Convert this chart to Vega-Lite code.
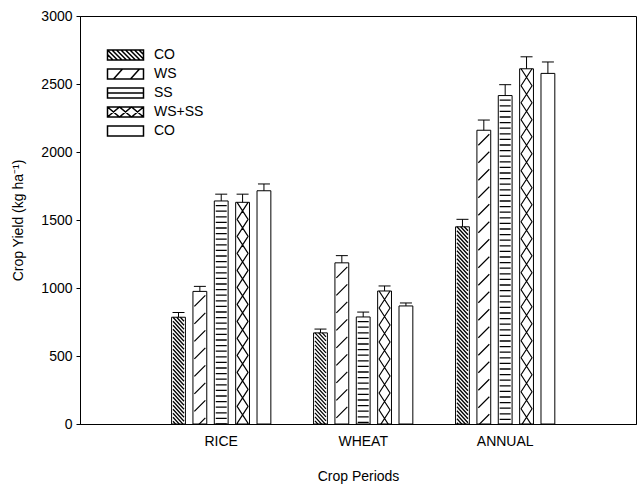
{
  "$schema": "https://vega.github.io/schema/vega-lite/v6.json",
  "width": 556,
  "height": 408,
  "autosize": {"type": "none"},
  "padding": {"left": 80, "top": 16, "right": 5, "bottom": 63},
  "background": "white",
  "config": {
    "font": "Liberation Sans",
    "view": {"stroke": "black", "strokeWidth": 1},
    "axis": {"grid": false, "domainColor": "black", "tickColor": "black", "labelColor": "black", "titleColor": "black", "labelFontSize": 14, "titleFontSize": 14, "titleFontWeight": "normal", "labelFont": "Liberation Sans", "titleFont": "Liberation Sans"},
    "legend": {"labelFont": "Liberation Sans"}
  },
  "data": {
    "values": [
      {"period": "RICE", "treatment": "CO1", "yield": 785, "upper": 820},
      {"period": "RICE", "treatment": "WS", "yield": 975, "upper": 1012},
      {"period": "RICE", "treatment": "SS", "yield": 1640, "upper": 1690},
      {"period": "RICE", "treatment": "WS+SS", "yield": 1630, "upper": 1690},
      {"period": "RICE", "treatment": "CO2", "yield": 1715, "upper": 1765},
      {"period": "WHEAT", "treatment": "CO1", "yield": 670, "upper": 698},
      {"period": "WHEAT", "treatment": "WS", "yield": 1185, "upper": 1238},
      {"period": "WHEAT", "treatment": "SS", "yield": 787, "upper": 823},
      {"period": "WHEAT", "treatment": "WS+SS", "yield": 978, "upper": 1015},
      {"period": "WHEAT", "treatment": "CO2", "yield": 868, "upper": 890},
      {"period": "ANNUAL", "treatment": "CO1", "yield": 1450, "upper": 1505},
      {"period": "ANNUAL", "treatment": "WS", "yield": 2160, "upper": 2235},
      {"period": "ANNUAL", "treatment": "SS", "yield": 2415, "upper": 2495},
      {"period": "ANNUAL", "treatment": "WS+SS", "yield": 2612, "upper": 2700},
      {"period": "ANNUAL", "treatment": "CO2", "yield": 2578, "upper": 2662}
    ]
  },
  "encoding": {
    "x": {
      "field": "period", "type": "nominal", "sort": ["RICE", "WHEAT", "ANNUAL"],
      "scale": {"paddingInner": 0, "paddingOuter": 0.458, "align": 0.54},
      "axis": {"labelAngle": 0, "ticks": false, "labelPadding": 10, "titlePadding": 21, "domainColor": "black"},
      "title": "Crop Periods"
    },
    "xOffset": {
      "field": "treatment", "type": "nominal", "sort": ["CO1", "WS", "SS", "WS+SS", "CO2"],
      "scale": {"paddingInner": 0.353, "paddingOuter": 1.853}
    }
  },
  "layer": [
    {
      "mark": {"type": "bar", "fill": "white", "stroke": "black", "strokeWidth": 1},
      "encoding": {
        "y": {
          "field": "yield", "type": "quantitative",
          "scale": {"domain": [0, 3000], "nice": false},
          "axis": {"values": [0, 500, 1000, 1500, 2000, 2500, 3000], "format": "d", "tickSize": 4, "labelPadding": 4, "titlePadding": 15},
          "title": "Crop Yield (kg ha⁻¹)"
        }
      }
    },
    {
      "transform": [{"filter": "datum.treatment == 'SS'"}],
      "mark": {"type": "rule", "color": "black", "strokeWidth": 11, "strokeDash": [1.3, 4.3], "strokeDashOffset": -4, "strokeCap": "butt"},
      "encoding": {
        "y": {"field": "yield", "type": "quantitative"},
        "y2": {"datum": 0}
      }
    },
    {
      "transform": [{"filter": "datum.treatment == 'CO1'"}],
      "mark": {"type": "point", "clip": true, "filled": false, "opacity": 1, "stroke": "black", "strokeWidth": 1.3, "size": 4,
        "shape": "M-5.5 0L5.5 12M-5.5 4L5.5 16M-5.5 8L5.5 20M-5.5 12L5.5 24M-5.5 16L5.5 28M-5.5 20L5.5 32M-5.5 24L5.5 36M-5.5 28L5.5 40M-5.5 32L5.5 44M-5.5 36L5.5 48M-5.5 40L5.5 52M-5.5 44L5.5 56M-5.5 48L5.5 60M-5.5 52L5.5 64M-5.5 56L5.5 68M-5.5 60L5.5 72M-5.5 64L5.5 76M-5.5 68L5.5 80M-5.5 72L5.5 84M-5.5 76L5.5 88M-5.5 80L5.5 92M-5.5 84L5.5 96M-5.5 88L5.5 100M-5.5 92L5.5 104M-5.5 96L5.5 108M-5.5 100L5.5 112M-5.5 104L5.5 116M-5.5 108L5.5 120M-5.5 112L5.5 124M-5.5 116L5.5 128M-5.5 120L5.5 132M-5.5 124L5.5 136M-5.5 128L5.5 140M-5.5 132L5.5 144M-5.5 136L5.5 148M-5.5 140L5.5 152M-5.5 144L5.5 156M-5.5 148L5.5 160M-5.5 152L5.5 164M-5.5 156L5.5 168M-5.5 160L5.5 172M-5.5 164L5.5 176M-5.5 168L5.5 180M-5.5 172L5.5 184M-5.5 176L5.5 188M-5.5 180L5.5 192M-5.5 184L5.5 196M-5.5 188L5.5 200M-5.5 192L5.5 204M-5.5 196L5.5 208M-1.83 0L5.5 8M1.83 0L5.5 4"},
      "encoding": {"y": {"field": "yield", "type": "quantitative"}}
    },
    {
      "transform": [{"filter": "datum.treatment == 'WS'"}],
      "mark": {"type": "point", "clip": true, "filled": false, "opacity": 1, "stroke": "black", "strokeWidth": 1.2, "size": 4,
        "shape": "M-5.5 15L5.5 4M-5.5 32.5L5.5 21.5M-5.5 50L5.5 39M-5.5 67.5L5.5 56.5M-5.5 85L5.5 74M-5.5 102.5L5.5 91.5M-5.5 120L5.5 109M-5.5 137.5L5.5 126.5M-5.5 155L5.5 144M-5.5 172.5L5.5 161.5M-5.5 190L5.5 179M-5.5 207.5L5.5 196.5M-5.5 225L5.5 214M-5.5 242.5L5.5 231.5M-5.5 260L5.5 249M-5.5 277.5L5.5 266.5M-5.5 295L5.5 284M-5.5 312.5L5.5 301.5"},
      "encoding": {"y": {"field": "yield", "type": "quantitative"}}
    },
    {
      "transform": [{"filter": "datum.treatment == 'WS+SS'"}],
      "mark": {"type": "point", "clip": true, "filled": false, "opacity": 1, "stroke": "black", "strokeWidth": 1.2, "strokeJoin": "bevel", "size": 4,
        "shape": "M-5.5 0L5.5 17L-5.5 34L5.5 51L-5.5 68L5.5 85L-5.5 102L5.5 119L-5.5 136L5.5 153L-5.5 170L5.5 187L-5.5 204L5.5 221L-5.5 238L5.5 255L-5.5 272L5.5 289L-5.5 306L5.5 323L-5.5 340L5.5 357L-5.5 374M5.5 0L-5.5 17L5.5 34L-5.5 51L5.5 68L-5.5 85L5.5 102L-5.5 119L5.5 136L-5.5 153L5.5 170L-5.5 187L5.5 204L-5.5 221L5.5 238L-5.5 255L5.5 272L-5.5 289L5.5 306L-5.5 323L5.5 340L-5.5 357L5.5 374"},
      "encoding": {"y": {"field": "yield", "type": "quantitative"}}
    },
    {
      "mark": {"type": "rule", "color": "black", "strokeWidth": 1},
      "encoding": {
        "y": {"field": "yield", "type": "quantitative"},
        "y2": {"field": "upper"}
      }
    },
    {
      "mark": {"type": "tick", "orient": "horizontal", "color": "black", "opacity": 1, "size": 12, "thickness": 1},
      "encoding": {"y": {"field": "upper", "type": "quantitative"}}
    },
    {
      "mark": {"type": "point", "opacity": 0, "size": 100, "color": "black"},
      "encoding": {
        "y": {"field": "yield", "type": "quantitative"},
        "shape": {
          "field": "treatment", "type": "nominal",
          "scale": {
            "domain": ["CO1", "WS", "SS", "WS+SS", "CO2"],
            "range": [
              "M-3.6 -1H3.6V1H-3.6ZM-3.6 -1L-1.6 1M-2.7 -1L-0.7 1M-1.8 -1L0.2 1M-0.9 -1L1.1 1M0 -1L2 1M0.9 -1L2.9 1M1.8 -1L3.6 0.8M2.7 -1L3.6 -0.1M-3.6 -0.1L-2.5 1",
              "M-3.6 -1H3.6V1H-3.6ZM-2.4 1L-0.6 -1M1 1L2.8 -1",
              "M-3.6 -1H3.6V1H-3.6ZM-3.6 0H3.6",
              "M-3.6 -1H3.6V1H-3.6ZM-3.6 -1L-1.2 1L1.2 -1L3.6 1M-3.6 1L-1.2 -1L1.2 1L3.6 -1",
              "M-3.6 -1H3.6V1H-3.6Z"
            ]
          },
          "legend": {
            "orient": "none", "legendX": 38.5, "legendY": 32, "title": null,
            "symbolSize": 100, "symbolOffset": 0, "labelFontSize": 14, "labelOffset": 21.5,
            "rowPadding": 3, "padding": 0, "labelColor": "black",
            "labelExpr": "datum.label == 'CO1' || datum.label == 'CO2' ? 'CO' : datum.label",
            "encode": {"symbols": {"update": {"fill": {"value": "white"}, "stroke": {"value": "black"}, "strokeWidth": {"value": 1}, "opacity": {"value": 1}}}}
          }
        }
      }
    }
  ]
}
